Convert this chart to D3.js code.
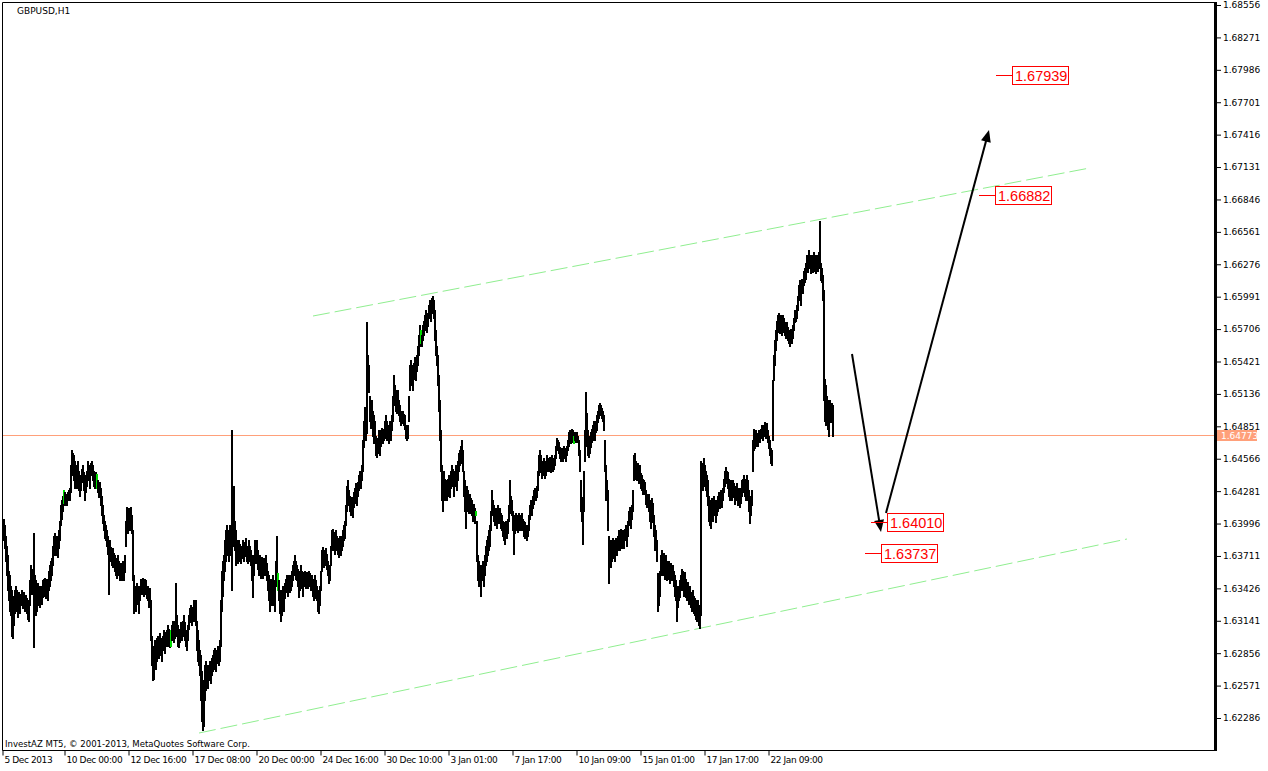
<!DOCTYPE html>
<html><head><meta charset="utf-8">
<script src="https://cdn.jsdelivr.net/npm/d3@7/dist/d3.min.js"></script>
<style>
html,body{margin:0;padding:0;background:#fff;}
svg{display:block;}
</style></head>
<body>
<svg id="chart" width="1268" height="771"></svg>
<script>
// ---------- DATA ----------
const symbolTitle = "GBPUSD,H1";
const copyrightText = "InvestAZ MT5, \u00A9 2001-2013, MetaQuotes Software Corp.";

// H1 bar highs / lows, price x 10^4 (one value per hourly bar, oldest first)
const barHighPts = [
16404,16398,16389,16380,16372,16358,16354,16345,16341,16336,
16332,16341,16345,16341,16336,16339,16336,16338,16341,16336,
16339,16336,16337,16334,16332,16329,16350,16363,16360,16358,
16391,16354,16350,16345,16347,16345,16341,16345,16343,16350,
16351,16352,16350,16351,16348,16358,16363,16367,16369,16380,
16389,16391,16387,16389,16385,16394,16402,16416,16420,16424,
16429,16427,16426,16424,16427,16429,16431,16451,16464,16462,
16460,16455,16451,16446,16455,16446,16438,16442,16448,16451,
16445,16438,16442,16446,16455,16451,16446,16453,16455,16451,
16446,16442,16445,16443,16438,16433,16436,16431,16424,16416,
16407,16402,16398,16394,16389,16385,16385,16379,16376,16378,
16374,16372,16369,16367,16372,16367,16363,16365,16363,16367,
16365,16372,16402,16414,16411,16413,16409,16414,16407,16394,
16354,16345,16341,16347,16345,16341,16345,16351,16350,16352,
16348,16351,16350,16345,16345,16341,16343,16332,16301,16292,
16288,16297,16292,16299,16301,16297,16303,16299,16297,16301,
16306,16301,16304,16306,16310,16307,16306,16306,16310,16314,
16310,16314,16347,16319,16310,16306,16307,16313,16310,16314,
16319,16313,16306,16301,16310,16319,16325,16328,16323,16326,
16332,16328,16332,16314,16306,16297,16288,16284,16270,16253,
16262,16275,16279,16275,16270,16275,16279,16277,16281,16284,
16288,16290,16286,16288,16292,16290,16297,16332,16358,16367,
16372,16385,16394,16398,16394,16389,16398,16394,16482,16429,
16433,16402,16394,16385,16380,16385,16382,16378,16380,16385,
16380,16383,16387,16380,16378,16385,16380,16376,16372,16363,
16372,16385,16380,16385,16376,16369,16372,16367,16370,16365,
16369,16367,16372,16365,16358,16354,16350,16351,16345,16354,
16350,16345,16367,16389,16356,16350,16341,16336,16341,16345,
16341,16347,16351,16354,16351,16354,16350,16354,16358,16363,
16367,16372,16367,16363,16360,16354,16358,16363,16358,16354,
16357,16358,16354,16357,16354,16358,16356,16351,16354,16350,
16351,16354,16350,16345,16341,16336,16345,16358,16376,16379,
16376,16374,16378,16373,16367,16358,16363,16380,16394,16395,
16392,16389,16394,16389,16387,16385,16389,16385,16389,16394,
16398,16402,16416,16433,16438,16429,16424,16420,16423,16420,
16427,16431,16435,16431,16436,16442,16446,16445,16451,16473,
16490,16502,16499,16577,16548,16539,16512,16504,16508,16499,
16495,16490,16477,16473,16475,16482,16473,16482,16484,16480,
16483,16490,16495,16490,16486,16482,16490,16486,16495,16512,
16530,16521,16517,16512,16517,16508,16504,16499,16497,16499,
16496,16495,16486,16483,16486,16512,16539,16543,16539,16534,
16541,16546,16543,16548,16556,16565,16574,16570,16565,16574,
16578,16583,16587,16580,16585,16592,16596,16592,16598,16600,
16596,16587,16570,16556,16548,16530,16508,16482,16451,16442,
16446,16439,16438,16433,16439,16442,16438,16446,16451,16448,
16442,16446,16451,16446,16455,16462,16464,16468,16473,16464,
16446,16438,16429,16433,16429,16424,16426,16422,16420,16416,
16417,16413,16411,16402,16372,16367,16363,16358,16363,16367,
16363,16372,16380,16385,16389,16394,16398,16411,16429,16420,
16416,16411,16413,16409,16416,16411,16413,16409,16407,16402,
16401,16398,16402,16400,16404,16416,16438,16424,16420,16411,
16407,16404,16409,16407,16404,16409,16407,16404,16409,16404,
16402,16401,16398,16395,16398,16407,16416,16420,16418,16424,
16429,16431,16429,16433,16446,16460,16464,16460,16455,16453,
16457,16453,16455,16460,16457,16455,16458,16455,16460,16457,
16455,16460,16468,16475,16473,16471,16467,16464,16466,16464,
16468,16466,16464,16468,16473,16480,16482,16479,16483,16482,
16477,16480,16478,16480,16477,16473,16464,16438,16423,16420,
16446,16482,16515,16497,16482,16477,16475,16480,16483,16486,
16490,16486,16490,16495,16499,16504,16506,16504,16501,16499,
16495,16473,16451,16438,16429,16389,16385,16380,16385,16387,
16385,16380,16387,16385,16389,16394,16389,16395,16392,16394,
16389,16395,16398,16394,16402,16411,16414,16411,16416,16429,
16460,16462,16455,16451,16453,16448,16451,16444,16442,16439,
16438,16436,16429,16426,16424,16426,16420,16416,16422,16418,
16407,16398,16394,16385,16356,16350,16358,16372,16376,16372,
16374,16369,16372,16367,16363,16367,16363,16365,16360,16363,
16358,16354,16350,16345,16341,16345,16350,16354,16360,16358,
16354,16357,16351,16345,16348,16343,16345,16339,16336,16341,
16336,16334,16332,16328,16332,16328,16323,16455,16453,16451,
16457,16451,16446,16442,16438,16424,16420,16416,16422,16420,
16424,16420,16416,16420,16424,16427,16424,16429,16426,16431,
16439,16446,16449,16446,16445,16439,16435,16438,16433,16438,
16435,16431,16433,16435,16429,16431,16427,16431,16438,16439,
16442,16439,16436,16442,16438,16429,16424,16420,16429,16473,
16483,16480,16482,16479,16477,16482,16480,16483,16486,16482,
16486,16489,16483,16488,16482,16477,16473,16466,16464,16526,
16548,16561,16570,16578,16583,16585,16580,16583,16578,16583,
16580,16577,16574,16577,16572,16570,16567,16571,16568,16574,
16580,16587,16585,16592,16600,16609,16614,16609,16615,16614,
16622,16624,16629,16636,16633,16640,16636,16629,16636,16633,
16638,16636,16631,16636,16633,16638,16666,16629,16624,16618,
16605,16527,16521,16512,16508,16499,16508,16504,16506,16504
];
const barLowPts = [
16385,16378,16367,16354,16341,16332,16323,16319,16301,16299,
16310,16321,16328,16323,16317,16325,16321,16328,16329,16325,
16330,16323,16327,16321,16316,16314,16328,16341,16338,16341,
16291,16328,16319,16323,16332,16328,16326,16332,16329,16335,
16339,16336,16334,16338,16332,16341,16345,16350,16354,16363,
16372,16378,16372,16376,16370,16378,16385,16398,16404,16411,
16418,16416,16418,16416,16420,16422,16420,16427,16446,16442,
16438,16431,16436,16431,16439,16429,16424,16429,16436,16438,
16429,16420,16427,16433,16439,16438,16431,16442,16445,16438,
16433,16431,16433,16431,16427,16423,16424,16416,16407,16400,
16394,16387,16385,16380,16373,16338,16372,16367,16363,16361,
16363,16358,16354,16352,16357,16354,16350,16351,16350,16354,
16350,16357,16380,16394,16391,16398,16394,16402,16391,16350,
16321,16328,16323,16332,16329,16321,16332,16339,16338,16341,
16336,16341,16338,16334,16332,16326,16329,16297,16275,16262,
16263,16275,16272,16279,16284,16281,16288,16284,16279,16288,
16290,16286,16292,16292,16297,16292,16291,16292,16297,16301,
16295,16299,16306,16301,16292,16291,16295,16299,16297,16301,
16306,16297,16292,16288,16297,16307,16313,16314,16310,16314,
16319,16314,16310,16288,16279,16275,16266,16244,16226,16218,
16222,16244,16253,16257,16255,16262,16263,16259,16266,16270,
16272,16275,16270,16277,16279,16275,16279,16292,16323,16336,
16350,16358,16367,16378,16372,16367,16380,16372,16341,16380,
16389,16376,16363,16367,16365,16372,16367,16365,16369,16372,
16367,16371,16374,16367,16365,16372,16367,16363,16350,16335,
16354,16367,16365,16372,16360,16354,16358,16352,16357,16352,
16358,16354,16358,16350,16341,16332,16323,16332,16328,16336,
16328,16323,16345,16354,16341,16332,16321,16314,16319,16328,
16323,16334,16339,16341,16336,16343,16339,16341,16345,16350,
16354,16358,16351,16350,16345,16335,16341,16348,16343,16336,
16345,16347,16343,16348,16343,16347,16345,16341,16341,16336,
16332,16341,16334,16332,16323,16321,16328,16341,16358,16363,
16361,16363,16365,16360,16354,16347,16350,16363,16376,16380,
16376,16373,16378,16376,16373,16370,16374,16372,16376,16380,
16385,16387,16398,16411,16420,16416,16411,16407,16410,16405,
16414,16418,16422,16416,16424,16429,16435,16431,16438,16446,
16467,16482,16473,16479,16526,16515,16490,16484,16490,16477,
16470,16473,16460,16458,16462,16467,16460,16468,16473,16470,
16473,16475,16477,16473,16475,16470,16477,16473,16482,16490,
16508,16504,16499,16497,16501,16495,16490,16486,16488,16490,
16486,16483,16475,16473,16475,16490,16517,16526,16521,16517,
16527,16533,16526,16534,16539,16548,16556,16558,16556,16561,
16565,16570,16574,16568,16573,16580,16583,16578,16585,16589,
16580,16561,16548,16539,16521,16499,16473,16446,16420,16411,
16424,16420,16423,16420,16424,16429,16423,16431,16438,16433,
16424,16433,16438,16429,16438,16446,16451,16453,16457,16446,
16424,16411,16396,16416,16411,16409,16413,16409,16407,16402,
16404,16400,16407,16367,16350,16345,16347,16336,16350,16351,
16345,16354,16363,16367,16372,16376,16380,16394,16409,16407,
16402,16398,16401,16396,16404,16400,16402,16396,16394,16389,
16385,16382,16389,16387,16391,16402,16411,16409,16407,16394,
16373,16391,16395,16394,16392,16395,16394,16394,16398,16394,
16389,16387,16387,16385,16389,16394,16404,16409,16407,16413,
16417,16420,16420,16423,16429,16442,16446,16445,16440,16442,
16445,16440,16442,16446,16448,16446,16449,16445,16451,16446,
16448,16451,16457,16464,16466,16462,16457,16455,16458,16455,
16460,16457,16455,16460,16464,16468,16471,16470,16473,16471,
16470,16473,16471,16473,16471,16460,16446,16411,16402,16382,
16411,16455,16473,16468,16460,16458,16462,16467,16471,16473,
16477,16473,16480,16482,16489,16492,16497,16495,16492,16490,
16482,16446,16420,16424,16394,16347,16363,16361,16367,16372,
16369,16367,16374,16372,16376,16379,16376,16380,16378,16382,
16378,16385,16387,16380,16389,16398,16402,16396,16404,16411,
16438,16446,16439,16438,16442,16435,16439,16431,16429,16426,
16429,16426,16417,16414,16416,16411,16402,16396,16407,16401,
16389,16376,16380,16367,16323,16328,16336,16354,16358,16354,
16360,16351,16357,16350,16351,16354,16347,16354,16350,16351,
16345,16336,16332,16314,16326,16332,16335,16341,16345,16341,
16336,16341,16335,16332,16334,16329,16332,16326,16323,16328,
16321,16319,16316,16314,16319,16310,16308,16319,16433,16429,
16439,16433,16429,16424,16416,16402,16398,16396,16407,16402,
16409,16407,16401,16407,16411,16416,16413,16417,16414,16420,
16427,16433,16438,16435,16431,16424,16420,16424,16420,16427,
16423,16417,16420,16422,16416,16420,16414,16418,16424,16427,
16429,16424,16420,16427,16420,16411,16400,16407,16416,16446,
16464,16466,16468,16470,16468,16473,16471,16475,16475,16473,
16477,16479,16475,16477,16471,16466,16460,16453,16451,16473,
16526,16539,16552,16561,16568,16571,16567,16571,16565,16570,
16568,16565,16563,16567,16561,16558,16556,16561,16558,16563,
16570,16577,16578,16580,16587,16596,16600,16592,16603,16602,
16609,16612,16615,16622,16621,16627,16624,16620,16624,16621,
16627,16622,16620,16627,16622,16627,16624,16614,16612,16596,
16508,16490,16486,16495,16483,16477,16492,16489,16495,16477
];
const greenBars = [60, 93, 167, 274, 417, 472, 570];

const priceTicks = [1.68556,1.68271,1.67986,1.67701,1.67416,1.67131,1.66846,1.66561,
  1.66276,1.65991,1.65706,1.65421,1.65136,1.64851,1.64566,1.64281,1.63996,1.63711,
  1.63426,1.63141,1.62856,1.62571,1.62286];
const timeTickBars = [0,62,126,190,254,318,382,446,510,574,638,702,766];
const timeTickLabels = ["5 Dec 2013","10 Dec 00:00","12 Dec 16:00","17 Dec 08:00","20 Dec 00:00",
  "24 Dec 16:00","30 Dec 10:00","3 Jan 01:00","7 Jan 17:00","10 Jan 09:00","15 Jan 01:00",
  "17 Jan 17:00","22 Jan 09:00"];
const bidPrice = 1.64773;

// trend channel (bar index, price)
const channelUpper = [[310, 1.65821], [1087, 1.67123]];
const channelLower = [[196, 1.62154], [1124, 1.63860]];
// forecast arrows (bar index, price)
const arrowPaths = [
  [[849, 1.65487], [878, 1.63922]],
  [[883, 1.64089], [986, 1.67457]]
];
// right price labels
const labelBars = [993, 976, 868, 862];
const labelPrices = [1.67939, 1.66882, 1.64010, 1.63737];

// ---------- CHART ----------
const svg = d3.select("#chart");
const W = 1268, H = 771;
const plotL = 2.5, plotT = 2.5, plotR = 1215, plotB = 750.5;
const visibleBars = 1211;

const x = d3.scaleLinear().domain([0, visibleBars]).range([3, 3 + visibleBars]);
const y = d3.scaleLinear().domain([1.62286, 1.68556]).range([718, 5]);

const high = barHighPts.map(v => v / 1e4);
const low = barLowPts.map(v => v / 1e4);

svg.append("rect").attr("width", W).attr("height", H).attr("fill", "#fff");

svg.append("clipPath").attr("id", "plotClip").append("rect")
  .attr("x", 3).attr("y", 3).attr("width", plotR - 4).attr("height", plotB - 3);

const plot = svg.append("g").attr("clip-path", "url(#plotClip)");

// bid line
plot.append("rect")
  .attr("x", 3).attr("width", plotR - 3)
  .attr("y", Math.round(y(bidPrice))).attr("height", 1)
  .style("fill", "rgb(255,160,122)");

// channel lines
const lineGen = d3.line().x(d => x(d[0])).y(d => y(d[1]));
[channelUpper, channelLower].forEach(c => {
  plot.append("path").attr("d", lineGen(c))
    .attr("fill", "none").attr("stroke", "#90EE90").attr("stroke-width", 1)
    .attr("stroke-dasharray", "17,5");
});

// bars (2 px wide, as drawn by the terminal at this zoom)
const barsG = plot.append("g").attr("shape-rendering", "crispEdges");
barsG.selectAll("rect").data(high).join("rect")
  .attr("x", (d, i) => Math.round(x(i)))
  .attr("width", 2)
  .attr("y", d => Math.round(y(d)))
  .attr("height", (d, i) => Math.max(1, Math.round(y(low[i])) - Math.round(y(d)) + 1))
  .attr("fill", (d, i) => greenBars.includes(i) ? "#00DD00" : "#000");

// arrows
arrowPaths.forEach(p => {
  const x0 = x(p[0][0]), y0 = y(p[0][1]), x1 = x(p[1][0]), y1 = y(p[1][1]);
  const dx = x1 - x0, dy = y1 - y0, len = Math.hypot(dx, dy);
  const ux = dx / len, uy = dy / len;
  const hl = 12, hw = 5;
  const bx = x1 - ux * hl, by = y1 - uy * hl;
  plot.append("line").attr("x1", x0).attr("y1", y0).attr("x2", bx + ux * 2).attr("y2", by + uy * 2)
    .attr("stroke", "#000").attr("stroke-width", 2);
  plot.append("path")
    .attr("d", `M${x1},${y1}L${bx - uy * hw},${by + ux * hw}L${bx + uy * hw},${by - ux * hw}Z`)
    .attr("fill", "#000");
});

// price labels
labelBars.forEach((b, k) => {
  const px = Math.round(x(b)), py = Math.round(y(labelPrices[k]));
  const g = plot.append("g");
  g.append("rect").attr("x", px).attr("width", 16).attr("y", py).attr("height", 1)
    .style("fill", "rgb(255,0,0)");
  g.append("rect").attr("x", px + 16.5).attr("y", py - 8.5).attr("width", 56).attr("height", 18)
    .attr("fill", "#fff").attr("stroke", "#FF0000").attr("stroke-width", 1);
  g.append("text").attr("x", px + 19).attr("y", py + 5.5)
    .attr("font-family", "Liberation Sans, Arial, sans-serif").attr("font-size", 14.5)
    .attr("fill", "#FF0000").text(labelPrices[k].toFixed(5));
});

// frame
svg.append("path")
  .attr("d", `M${plotR},${plotT}H${plotL}V${plotB}H${plotR}`)
  .attr("fill", "none").attr("stroke", "#000").attr("stroke-width", 1);
svg.append("line").attr("x1", plotR + 0.5).attr("x2", plotR + 0.5).attr("y1", 2).attr("y2", 751)
  .attr("stroke", "#000").attr("stroke-width", 3);

// right axis
const yAxis = d3.axisRight(y).tickValues(priceTicks).tickSize(4).tickSizeOuter(0)
  .tickFormat(d3.format(".5f")).tickPadding(2);
const gy = svg.append("g").attr("transform", `translate(${plotR + 2},0)`).call(yAxis);
gy.select(".domain").remove();
gy.selectAll("text").attr("font-family", "DejaVu Sans, sans-serif").attr("font-size", 9).attr("fill", "#000");
gy.selectAll("line").attr("stroke", "#000");

// bid label
const by0 = Math.round(y(bidPrice));
svg.append("rect").attr("x", 1217).attr("y", by0 - 5).attr("width", 40).attr("height", 11)
  .style("fill", "rgb(255,160,122)");
svg.append("text").attr("x", 1221).attr("y", by0 + 4)
  .attr("font-family", "DejaVu Sans, sans-serif").attr("font-size", 9).attr("fill", "#fff")
  .text(bidPrice.toFixed(5));

// bottom axis
const xAxis = d3.axisBottom(x).tickValues(timeTickBars).tickSize(5).tickSizeOuter(0)
  .tickFormat((d, i) => timeTickLabels[i]);
const gx = svg.append("g").attr("transform", `translate(0,${plotB})`).call(xAxis);
gx.select(".domain").remove();
gx.selectAll(".tick line").attr("stroke", "#000").attr("transform", "translate(-0.5,0)");
gx.selectAll("text").attr("text-anchor", "start").attr("dx", 1).attr("dy", "0.45em")
  .attr("font-family", "DejaVu Sans, sans-serif").attr("font-size", 9)
  .attr("letter-spacing", -0.4).attr("fill", "#000");

// title and copyright
svg.append("text").attr("x", 17).attr("y", 14)
  .attr("font-family", "DejaVu Sans, sans-serif").attr("font-size", 9).attr("fill", "#000")
  .text(symbolTitle);
svg.append("text").attr("x", 5).attr("y", 747)
  .attr("font-family", "DejaVu Sans, sans-serif").attr("font-size", 9).attr("fill", "#000")
  .attr("textLength", 245).attr("lengthAdjust", "spacingAndGlyphs")
  .text(copyrightText);
</script>
</body></html>
